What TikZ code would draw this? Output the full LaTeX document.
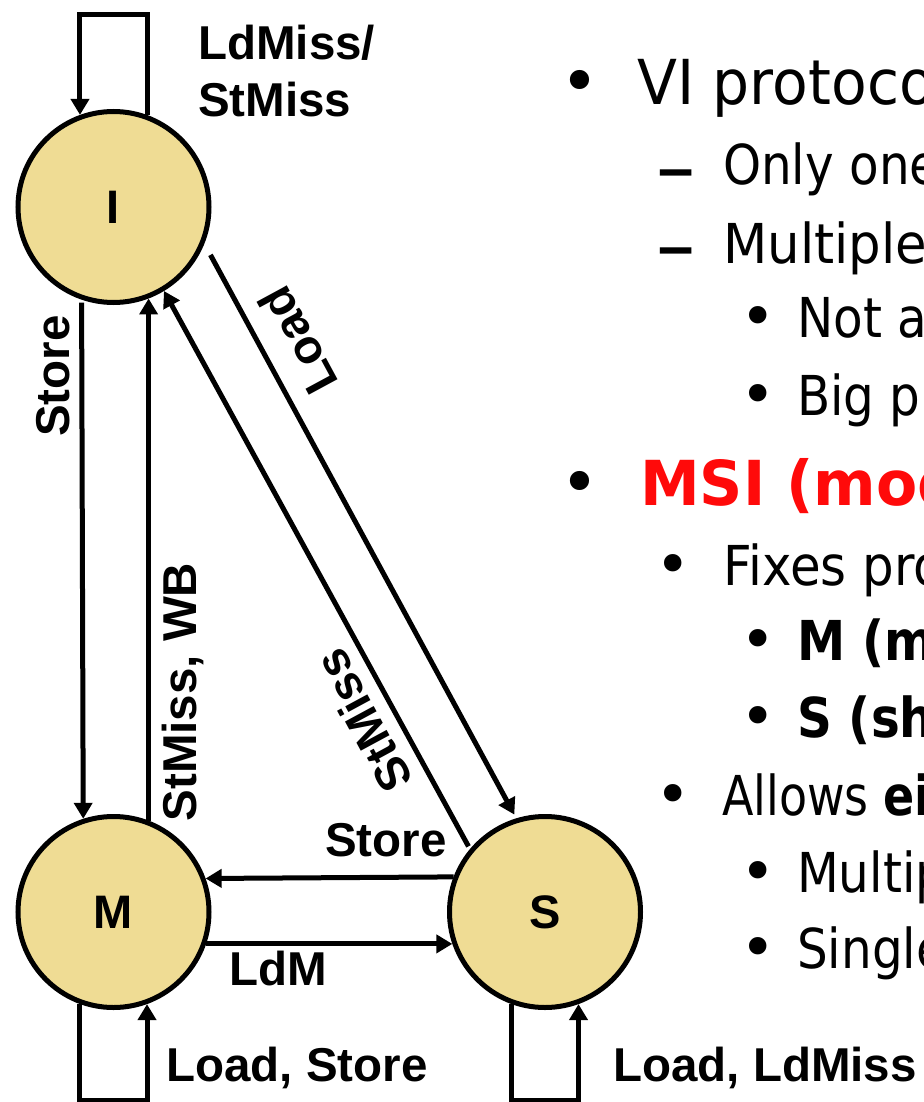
\documentclass[tikz,border=0pt]{standalone}
\usepackage{fontspec}
\usepackage{graphicx}
\setmainfont{DejaVu Sans}[FakeStretch=0.88]
\newfontfamily\bulfont{DejaVu Sans}
\newfontfamily\lblfont{Liberation Sans}
\usetikzlibrary{arrows.meta}
\definecolor{statefill}{RGB}{239,220,148}
\definecolor{msired}{RGB}{255,10,10}
\begin{document}
\begin{tikzpicture}[x=1pt,y=-1pt,
  state/.style={circle, draw=black, line width=5pt, fill=statefill, minimum size=191pt, inner sep=0pt, font=\lblfont\bfseries\fontsize{47}{55}\selectfont},
  arr/.style={line width=5pt, -{Triangle[width=18pt,length=16pt]}},
  lbl/.style={inner sep=0pt, font=\lblfont\bfseries\fontsize{47.5}{57}\selectfont},
  bigtxt/.style={inner sep=0pt, anchor=base west, font=\fontsize{62}{74}\selectfont},
  txt/.style={inner sep=0pt, anchor=base west, font=\fontsize{55}{66}\selectfont},
  boldtxt/.style={txt, font=\bfseries\fontsize{55}{66}\selectfont},
  bigbul/.style={inner sep=0pt, anchor=base, font=\bulfont\fontsize{66}{66}\selectfont},
  smallbul/.style={inner sep=0pt, anchor=base, font=\bulfont\fontsize{60}{60}\selectfont},
  dashtxt/.style={inner sep=0pt, anchor=base, font=\bulfont\fontsize{56}{66}\selectfont}
]
\useasboundingbox (0,0) rectangle (923,1102);
\fill[white] (0,0) rectangle (923,1102);

% states
\node[state] (I) at (113.5,207) {I};
\node[state] (M) at (113.5,912) {M};
\node[state] (S) at (545,912) {S};

% self loops
\coordinate (Itop) at (113.5,15);
\coordinate (Mbot) at (113.5,1100);
\coordinate (Sbot) at (545,1100);
\draw[arr] (I.70) |- (Itop) -| (I.110);
\draw[arr] (M.250) |- (Mbot) -| (M.290);
\draw[arr] (S.250) |- (Sbot) -| (S.290);

% I <-> M
\draw[arr, shorten <=3pt] (I.251.4) -- (M.108.6);
\draw[arr] (M.69.5) -- (I.-69.5);

% M <-> S
\draw[arr] (S.159.1) -- (M.20.9);
\draw[arr] (M.-19.6) -- (S.199.6);

% diagonals
\draw[arr, shorten <=12.75pt, shorten >=4.2pt] (I.-22.7) -- (S.107.8);
\draw[arr, shorten <=3pt] (S.140) -- (I.-59.8);

% labels
\node[lbl, anchor=north west, align=left] (lIloop) at (198,25) {LdMiss/\\StMiss};
\node[lbl, anchor=base, rotate=90] (lstoreIM) at (69,376) {Store};
\node[lbl, anchor=base, rotate=90] (lstmisswb) at (196,692) {StMiss, WB};
\node[lbl, rotate=118.4] (lload) at (298,341) {Load};
\node[lbl, rotate=118.4] (lstmiss) at (363,721) {StMiss};
\node[lbl, anchor=base west] (lstoreSM) at (325,856) {Store};
\node[lbl, anchor=base west] (lldm) at (229,985) {LdM};
\node[lbl, anchor=base west] (lMloop) at (166,1081) {Load, Store};
\node[lbl, anchor=base west] (lSloop) at (613,1081) {Load, LdMiss};

% right-hand text
\node[bigbul] (b1) at (580,105) {•};
\node[bigtxt] (t1) at (637,105) {\scalebox{1.07}[1]{VI protoco}};
\node[dashtxt] (b2) at (676,197) {\scalebox{1.4}[1.6]{–}};
\node[txt] (t2) at (723,185) {Only one};
\node[dashtxt] (b3) at (676,275) {\scalebox{1.4}[1.6]{–}};
\node[txt] (t3) at (723,263) {\scalebox{1.06}[1]{Multiple c}};
\node[smallbul] (b4) at (758,337) {•};
\node[txt] (t4) at (797,337) {Not a};
\node[smallbul] (b5) at (758,415) {•};
\node[txt] (t5) at (797,415) {Big pr};
\node[bigbul] (b6) at (580,505) {•};
\node[bigtxt, text=msired, font=\bfseries\fontsize{62}{74}\selectfont] (t6) at (640,505) {\scalebox{1.1}[1]{MSI (mod}};
\node[smallbul] (b7) at (673,585) {•};
\node[txt] (t7) at (723,585) {\scalebox{1.03}[1]{Fixes pro}};
\node[smallbul] (b8) at (758,660) {•};
\node[boldtxt] (t8) at (797,660) {M (m};
\node[smallbul] (b9) at (758,737) {•};
\node[boldtxt] (t9) at (797,737) {S (sh};
\node[smallbul] (b10) at (673,815) {•};
\node[txt] (t10) at (722,815) {\scalebox{0.95}[1]{Allows \textbf{ei}}};
\node[smallbul] (b11) at (758,892) {•};
\node[txt] (t11) at (797,892) {Multip};
\node[smallbul] (b12) at (758,968) {•};
\node[txt] (t12) at (797,968) {Single};
\end{tikzpicture}
\end{document}
